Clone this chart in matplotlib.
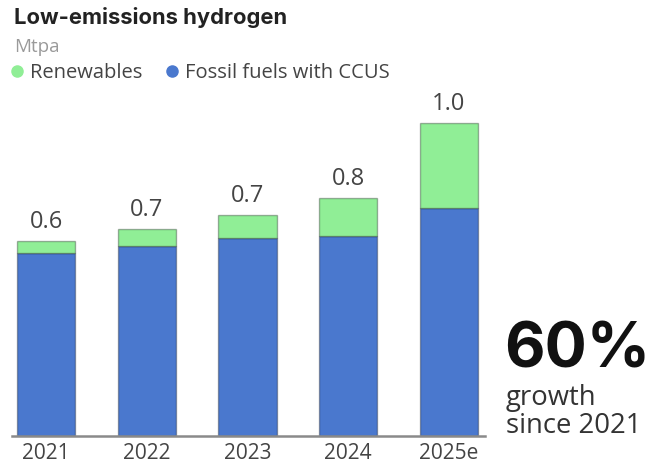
import matplotlib
matplotlib.use("Agg")
import matplotlib.pyplot as plt
from matplotlib.lines import Line2D
import numpy as np

# Low-emissions hydrogen production, Mtpa
years = ["2021", "2022", "2023", "2024", "2025e"]
fossil_ccus = [0.585, 0.607, 0.634, 0.640, 0.730]
renewables = [0.039, 0.054, 0.072, 0.122, 0.270]

title = "Low-emissions hydrogen"
unit = "Mtpa"
growth_text = "60%"
growth_lines = ["growth", "since 2021"]

BLUE = "#4A78CE"
GREEN = "#90EE96"
EDGE = (0, 0, 0, 0.30)
BODY = "Open Sans"

W, H = 657, 467
fig = plt.figure(figsize=(W / 100, H / 100), dpi=100)

def fx(px):
    return px / W

def fy(py):
    return 1 - py / H

ax_left, ax_right, ax_top, ax_bottom = 12, 485, 100, 435.7
ax = fig.add_axes([fx(ax_left), fy(ax_bottom), fx(ax_right - ax_left), fy(ax_top) - fy(ax_bottom)])

x = np.arange(len(years))
fossil = np.array(fossil_ccus)
renew = np.array(renewables)
total = fossil + renew

bw = 0.58
ax.bar(x, fossil, width=bw, color=BLUE, edgecolor=EDGE, linewidth=1.0, label="Fossil fuels with CCUS", zorder=2)
ax.bar(x, renew, bottom=fossil, width=bw, color=GREEN, edgecolor=EDGE, linewidth=1.0, label="Renewables", zorder=2)

for xi, t in zip(x, total):
    ax.annotate(f"{t:.1f}", (xi, t), xytext=(0, 9.4), textcoords="offset points",
                ha="center", va="baseline", fontsize=17, color="#444444", family=BODY)

ax.set_xlim(-0.34, 4.36)
ax.set_ylim(0, 1.0746)
ax.set_xticks(x)
ax.set_xticklabels(years, fontsize=15, color="#444444", family=BODY)
ax.tick_params(axis="x", length=0, pad=5.5)
ax.set_yticks([])
for s in ["left", "right", "top"]:
    ax.spines[s].set_visible(False)
ax.spines["bottom"].set_color("#8a8a8a")
ax.spines["bottom"].set_linewidth(1.8)
ax.set_facecolor("none")

# Header
fig.text(fx(14), fy(18), title, fontsize=15.8, fontweight="bold", color="#222222",
         family="Inter", ha="left", va="center")
fig.text(fx(14), fy(47), unit, fontsize=13.5, color="#9a9a9a", family=BODY, ha="left", va="center")

# Legend
leg_handles = [Line2D([], [], marker="o", linestyle="none", markersize=8, color=GREEN),
               Line2D([], [], marker="o", linestyle="none", markersize=8, color=BLUE)]
fig.legend(leg_handles, ["Renewables", "Fossil fuels with CCUS"], loc="center left",
           bbox_to_anchor=(fx(10), fy(73)), ncol=2, frameon=False, handlelength=0.7,
           handletextpad=0.3, columnspacing=1.1, borderpad=0, borderaxespad=0,
           prop={"family": BODY, "size": 14.5}, labelcolor="#444444")

# Growth callout
fig.text(fx(504), fy(368), growth_text, fontsize=45, fontweight="bold", color="#111111",
         family="Inter", ha="left", va="baseline")
for line, base in zip(growth_lines, [405, 433]):
    fig.text(fx(506), fy(base), line, fontsize=19.8, color="#333333", family=BODY,
             ha="left", va="baseline")

fig.savefig("out.png", dpi=100)
